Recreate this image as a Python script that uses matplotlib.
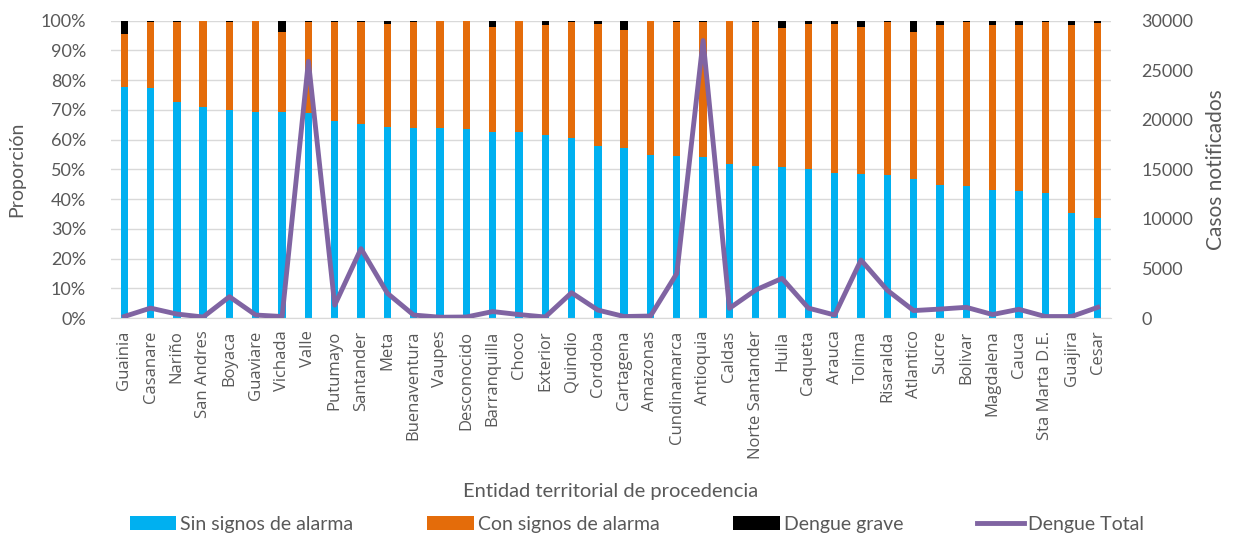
import matplotlib.pyplot as plt
import numpy as np

plt.rcParams['font.family'] = ['Lato', 'DejaVu Sans']

entidades = ['Guainia', 'Casanare', 'Nariño', 'San Andres', 'Boyaca', 'Guaviare', 'Vichada',
             'Valle', 'Putumayo', 'Santander', 'Meta', 'Buenaventura', 'Vaupes', 'Desconocido',
             'Barranquilla', 'Choco', 'Exterior', 'Quindio', 'Cordoba', 'Cartagena', 'Amazonas',
             'Cundinamarca', 'Antioquia', 'Caldas', 'Norte Santander', 'Huila', 'Caqueta',
             'Arauca', 'Tolima', 'Risaralda', 'Atlantico', 'Sucre', 'Bolivar', 'Magdalena',
             'Cauca', 'Sta Marta D.E.', 'Guajira', 'Cesar']

# porcentaje sin signos de alarma
sin_signos = [77.6, 77.3, 72.8, 70.9, 70.0, 69.3, 69.3, 68.9, 66.4, 65.3, 64.2, 63.9, 63.9, 63.5,
              62.5, 62.6, 61.6, 60.5, 57.7, 57.3, 54.9, 54.5, 54.1, 51.8, 51.0, 50.7, 50.2,
              48.7, 48.5, 48.2, 46.7, 44.8, 44.4, 43.1, 42.8, 42.2, 35.3, 33.6]

# porcentaje dengue grave
grave = [4.6, 0.4, 0.5, 0.1, 0.4, 0.1, 3.7, 0.5, 0.3, 0.5, 1.1, 0.5, 0.1, 0.1,
         2.0, 0.1, 1.6, 0.3, 1.1, 3.1, 0.1, 0.4, 0.3, 0.2, 0.4, 2.6, 1.1,
         1.1, 2.0, 0.3, 3.9, 1.5, 0.3, 1.5, 1.5, 0.3, 1.5, 0.9]

# casos totales
total = [150, 1000, 400, 100, 2150, 300, 150, 25900, 1300, 7000, 2500, 300, 80, 100,
         650, 350, 100, 2550, 800, 150, 200, 4500, 28000, 980, 2830, 4000, 1000,
         300, 5850, 2800, 750, 900, 1080, 350, 880, 150, 150, 1080]

sin_signos = np.array(sin_signos)
grave = np.array(grave)
con_signos = 100 - sin_signos - grave

azul = '#00B0F0'
naranja = '#E46C0A'
morado = '#8064A2'
gris = '#595959'

x = np.arange(len(entidades))

fig = plt.figure(figsize=(12.34, 5.37), dpi=100)
ax = fig.add_axes([0.09, 0.4078, 0.8103, 0.5537])

w = 0.28
b1 = ax.bar(x, sin_signos / 100, w, color=azul, label='Sin signos de alarma', zorder=2)
b2 = ax.bar(x, con_signos / 100, w, bottom=sin_signos / 100, color=naranja,
            label='Con signos de alarma', zorder=2)
b3 = ax.bar(x, grave / 100, w, bottom=(sin_signos + con_signos) / 100, color='black',
            label='Dengue grave', zorder=2)

ax.set_ylim(0, 1)
ax.set_xlim(-0.5, len(entidades) - 0.5)
ax.set_yticks(np.arange(0, 1.01, 0.1))
ax.set_yticklabels([f'{int(round(v * 100))}%' for v in np.arange(0, 1.01, 0.1)])
ax.yaxis.grid(True, color='#D9D9D9', linewidth=1, zorder=0)
ax.set_axisbelow(True)
ax.set_xticks(x)
ax.set_xticklabels(entidades, rotation=90, family=['Open Sans', 'DejaVu Sans'], fontsize=12)
for s in ax.spines.values():
    s.set_visible(False)
ax.spines['bottom'].set_visible(True)
ax.spines['bottom'].set_color('#D9D9D9')
ax.tick_params(length=0, colors=gris, labelsize=13)
ax.tick_params(axis='y', pad=18)
ax.tick_params(axis='x', pad=9, labelsize=12)
ax.set_ylabel('Proporción', color=gris, fontsize=14)
ax.yaxis.set_label_coords(-0.086, 0.5)
ax.set_xlabel('Entidad territorial de procedencia', color=gris, fontsize=14.5)
ax.xaxis.set_label_coords(0.5, -0.555)

ax2 = ax.twinx()
l1, = ax2.plot(x, total, color=morado, linewidth=3.5, label='Dengue Total', zorder=3)
ax2.set_ylim(0, 30000)
ax2.set_yticks(range(0, 30001, 5000))
for s in ax2.spines.values():
    s.set_visible(False)
ax2.tick_params(length=0, colors=gris, labelsize=13, pad=22)
ax2.set_ylabel('Casos notificados', color=gris, fontsize=15)
ax2.yaxis.set_label_coords(1.095, 0.5)

fig.legend(handles=[b1, b2, b3, l1], loc='center', bbox_to_anchor=(0.516, 0.024), ncol=4,
           frameon=False, fontsize=14, handlelength=2.4, handleheight=0.7,
           handletextpad=0.2, columnspacing=3.8, labelcolor=gris)

fig.savefig('out.png', dpi=100)
